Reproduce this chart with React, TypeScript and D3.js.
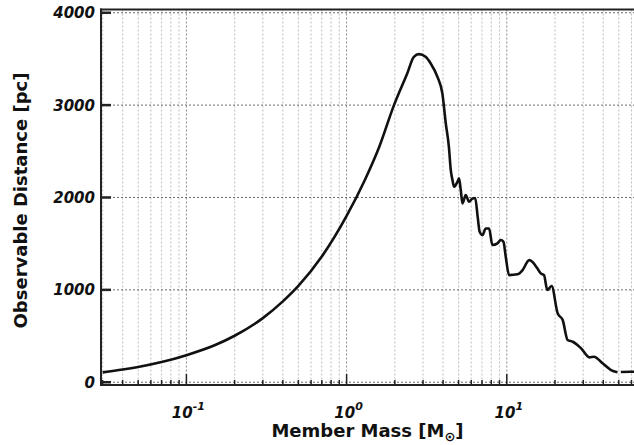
import React from "react";
import * as d3 from "d3";

const mass: number[] = [
  0.03, 0.04, 0.05, 0.07, 0.1, 0.15, 0.2, 0.3, 0.4, 0.5, 0.7, 1.0, 1.3, 1.6,
  1.976, 2.39, 2.63, 2.83, 3.11, 3.35, 3.69, 3.96, 4.16, 4.35, 4.47, 4.58, 4.69,
  4.92, 5.03, 5.16, 5.29, 5.54, 5.81, 6.11, 6.35, 6.58, 6.77, 7.05, 7.39, 7.75, 8.13, 8.74,
  9.17, 9.53, 9.85, 10.33, 11.66, 12.54, 13.8, 14.42, 15.5, 16.3, 17.07, 17.9, 19.03, 20.78,
  22.33, 23.97, 25.81, 29.1, 32.8, 35.0, 39.6, 44.7, 49.1, 50.3, 51.5, 59.6, 73,
];
const distance: (number | null)[] = [
  107, 137, 165, 218, 293, 400, 503, 694, 875, 1042, 1360, 1800, 2190, 2550,
  3000, 3343, 3523, 3552, 3523, 3451, 3306, 3127, 2802, 2549, 2296, 2188, 2116,
  2170, 2207, 2080, 1936, 2026, 1953, 1990, 1995, 1790, 1629, 1593, 1665, 1665, 1485, 1503,
  1539, 1520, 1358, 1160, 1168, 1214, 1322, 1304, 1233, 1178, 1160, 998, 1041, 745,
  673, 457, 438, 367, 269, 276, 205, 132, 107, null, 110, 113, 112,
];
const yTicks: number[] = [0, 1000, 2000, 3000, 4000];
const xDecades: number[] = [-1, 0, 1];
const xTitle = "Member Mass [M";
const yTitle = "Observable Distance [pc]";

const W = 634;
const H = 445;
const FONT = "'DejaVu Sans', Verdana, sans-serif";

export default function App() {
  const x = d3.scaleLog().domain([0.0293, 100]).range([101, 667]);
  const y = d3.scaleLinear().domain([-30, 4035]).range([385, 9.5]);

  const pts = mass.map((m, i) => ({ m, d: distance[i] }));
  const line = d3
    .line<{ m: number; d: number | null }>()
    .defined((p) => p.d !== null)
    .x((p) => x(p.m))
    .y((p) => y(p.d as number))
    .curve(d3.curveMonotoneX);

  const grid: { v: number; major: boolean }[] = [];
  for (let e = -2; e <= 1; e++) {
    for (let k = 1; k <= 9; k++) {
      const v = k * Math.pow(10, e);
      if (v >= 0.0293 && v <= 100) grid.push({ v, major: k === 1 });
    }
  }

  const plotL = 101;
  const plotR = 700;
  const plotT = 9.5;
  const plotB = 385;

  return (
    <svg
      width={W}
      height={H}
      style={{ position: "absolute", left: 0, top: 0, background: "#fff" }}
      fontFamily={FONT}
    >
      <rect x={0} y={0} width={W} height={H} fill="#fff" />
      {grid.map((g, i) => (
        <line
          key={"vg" + i}
          x1={x(g.v)}
          x2={x(g.v)}
          y1={plotT}
          y2={plotB}
          stroke={g.major ? "#8a8a8a" : "#bdbdbd"}
          strokeWidth={1}
          strokeDasharray="2,2"
        />
      ))}
      {yTicks.map((t) => (
        <line
          key={"hg" + t}
          x1={plotL}
          x2={plotR}
          y1={y(t)}
          y2={y(t)}
          stroke="#6a6a6a"
          strokeWidth={1}
          strokeDasharray="2,2"
        />
      ))}
      <path d={line(pts) || ""} fill="none" stroke="#111" strokeWidth={2.6} strokeLinejoin="round" />
      <line x1={plotL} x2={plotL} y1={plotT - 1} y2={plotB + 1} stroke="#222" strokeWidth={2} />
      <line x1={plotL - 1} x2={plotR} y1={plotT} y2={plotT} stroke="#222" strokeWidth={2} />
      <line x1={plotL - 1} x2={plotR} y1={plotB} y2={plotB} stroke="#222" strokeWidth={2} />
      {grid.map((g, i) => (
        <line
          key={"xt" + i}
          x1={x(g.v)}
          x2={x(g.v)}
          y1={plotB}
          y2={plotB - (g.major ? 11 : 5)}
          stroke="#222"
          strokeWidth={1.5}
        />
      ))}
      {yTicks.map((t) => (
        <line key={"yt" + t} x1={plotL} x2={plotL + 10} y1={y(t)} y2={y(t)} stroke="#222" strokeWidth={2.5} />
      ))}
      {yTicks.map((t) => (
        <text
          key={"yl" + t}
          x={95}
          y={y(t) + 5.5}
          textAnchor="end"
          fontSize={15}
          fontWeight="bold"
          fontStyle="italic"
          fill="#111"
        >
          {t}
        </text>
      ))}
      {xDecades.map((e) => (
        <text
          key={"xl" + e}
          x={x(Math.pow(10, e)) + 2}
          y={417.5}
          textAnchor="middle"
          fontSize={15}
          fontWeight="bold"
          fontStyle="italic"
          fill="#111"
        >
          <tspan>10</tspan>
          <tspan dy={-8} fontSize={11}>
            {String(e)}
          </tspan>
        </text>
      ))}
      <text x={367.5} y={437} textAnchor="middle" fontSize={18} fontWeight="bold" fill="#111">
        <tspan>{xTitle}</tspan>
        <tspan dy={4} fontSize={13}>
          ⊙
        </tspan>
        <tspan dy={-4}>]</tspan>
      </text>
      <text
        transform="translate(27,200.5) rotate(-90)"
        textAnchor="middle"
        fontSize={18}
        fontWeight="bold"
        fill="#111"
      >
        {yTitle}
      </text>
    </svg>
  );
}
